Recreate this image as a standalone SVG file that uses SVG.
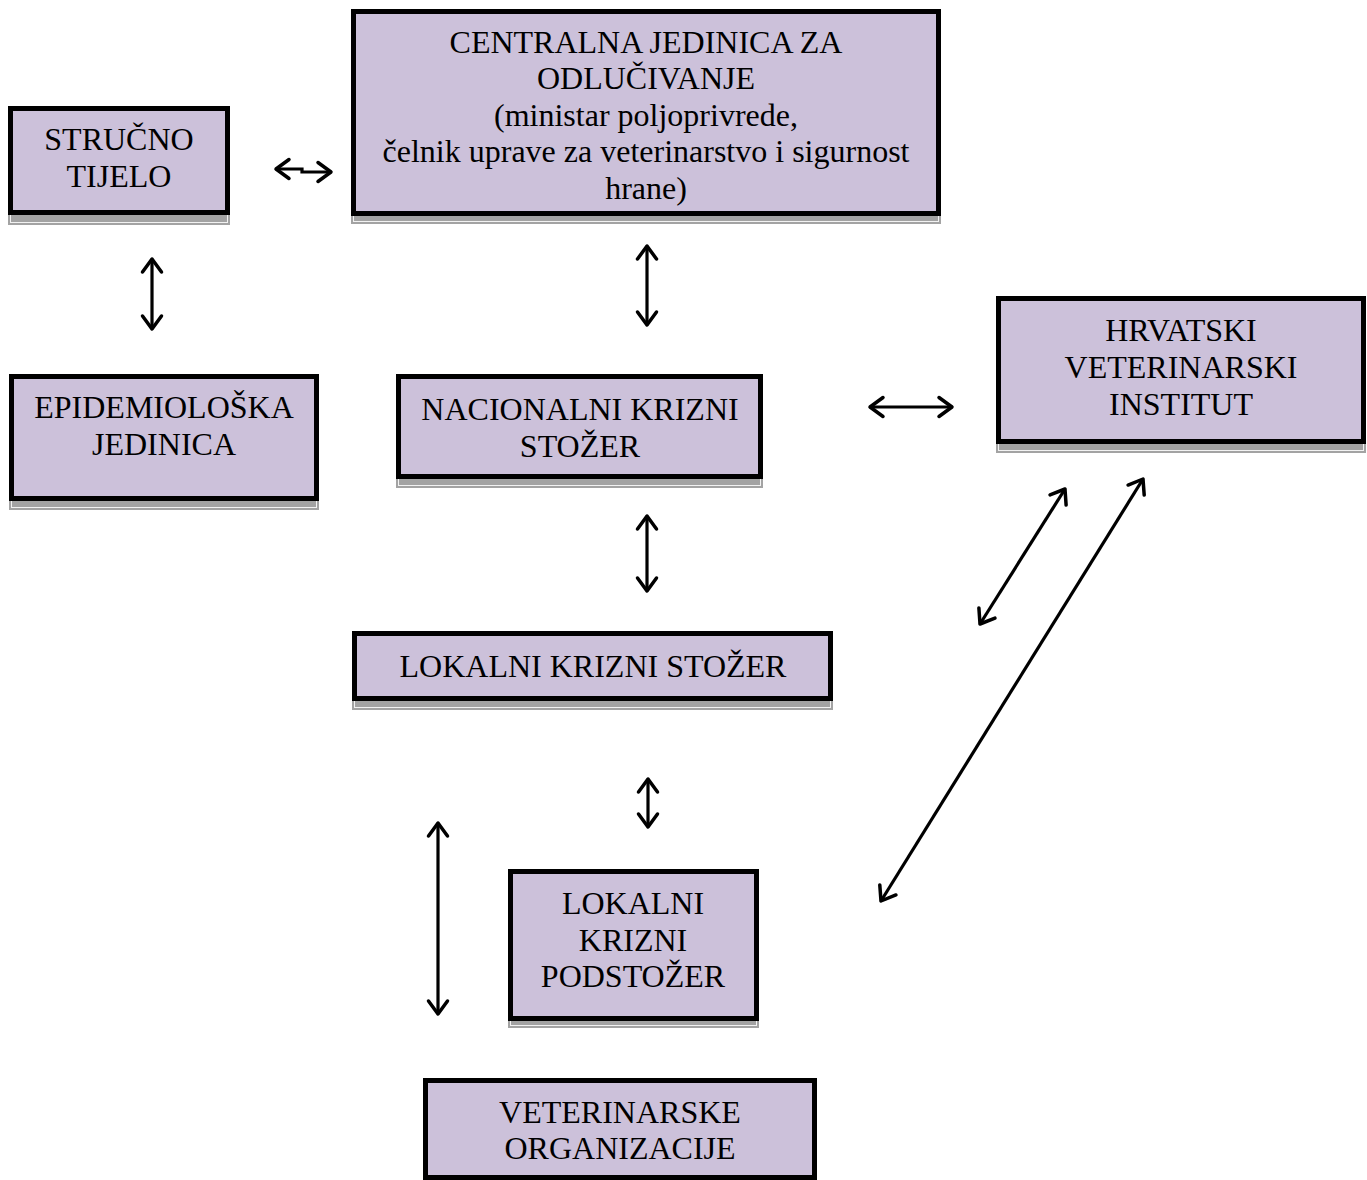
<svg xmlns="http://www.w3.org/2000/svg" width="1367" height="1180" viewBox="0 0 1367 1180">
<style>
.box{fill:#ccc1da;stroke:#000;stroke-width:5}
.sh{fill:#a3a3a3}
.shl{fill:none;stroke:#f2f2f2;stroke-width:1}
.t{font-family:"Liberation Serif","Times New Roman",serif;font-size:32px;fill:#000;text-anchor:middle}
.c{fill:none;stroke:#000;stroke-width:3.2;marker-start:url(#ah);marker-end:url(#ah)}
</style>
<defs>
<marker id="ah" markerUnits="userSpaceOnUse" orient="auto-start-reverse" refX="0" refY="0" markerWidth="30" markerHeight="30" viewBox="-20 -15 30 30" style="overflow:visible">
<path d="M-13,-9.5 L0,0 L-13,9.5" fill="none" stroke="#000" stroke-width="3.5" stroke-linecap="round" stroke-linejoin="round"/>
</marker>
</defs>
<rect width="1367" height="1180" fill="#fff"/>

<g id="strucno">
<rect class="sh" x="8" y="208" width="222" height="17"/>
<rect class="shl" x="10.5" y="210" width="217" height="12.5"/>
<rect class="box" x="10.5" y="108.5" width="217" height="104"/>
<text class="t" x="119" y="150">STRUČNO</text>
<text class="t" x="119" y="187">TIJELO</text>
</g>

<g id="centralna">
<rect class="sh" x="351" y="209" width="590" height="15"/>
<rect class="shl" x="353.5" y="211" width="585" height="10.5"/>
<rect class="box" x="353.5" y="11.5" width="585" height="202"/>
<text class="t" x="646" y="53">CENTRALNA JEDINICA ZA</text>
<text class="t" x="646" y="89">ODLUČIVANJE</text>
<text class="t" x="646" y="126">(ministar poljoprivrede,</text>
<text class="t" x="646" y="162">čelnik uprave za veterinarstvo i sigurnost</text>
<text class="t" x="646" y="199">hrane)</text>
</g>

<g id="epidemioloska">
<rect class="sh" x="9" y="494" width="310" height="16"/>
<rect class="shl" x="11.5" y="496" width="305" height="11.5"/>
<rect class="box" x="11.5" y="376.5" width="305" height="122"/>
<text class="t" x="164" y="418">EPIDEMIOLOŠKA</text>
<text class="t" x="164" y="455">JEDINICA</text>
</g>

<g id="nacionalni">
<rect class="sh" x="396" y="472" width="367" height="16"/>
<rect class="shl" x="398.5" y="474" width="362" height="11.5"/>
<rect class="box" x="398.5" y="376.5" width="362" height="100"/>
<text class="t" x="580" y="420">NACIONALNI KRIZNI</text>
<text class="t" x="580" y="457">STOŽER</text>
</g>

<g id="hrvatski">
<rect class="sh" x="996" y="437" width="370" height="16"/>
<rect class="shl" x="998.5" y="439" width="365" height="11.5"/>
<rect class="box" x="998.5" y="298.5" width="365" height="143"/>
<text class="t" x="1181" y="341">HRVATSKI</text>
<text class="t" x="1181" y="378">VETERINARSKI</text>
<text class="t" x="1181" y="415">INSTITUT</text>
</g>

<g id="lokalni-stozer">
<rect class="sh" x="352" y="694" width="481" height="16"/>
<rect class="shl" x="354.5" y="696" width="476" height="11.5"/>
<rect class="box" x="354.5" y="633.5" width="476" height="65"/>
<text class="t" x="593" y="677">LOKALNI KRIZNI STOŽER</text>
</g>

<g id="lokalni-podstozer">
<rect class="sh" x="508" y="1014" width="251" height="14"/>
<rect class="shl" x="510.5" y="1016" width="246" height="9.5"/>
<rect class="box" x="510.5" y="871.5" width="246" height="147"/>
<text class="t" x="633" y="914">LOKALNI</text>
<text class="t" x="633" y="951">KRIZNI</text>
<text class="t" x="633" y="987">PODSTOŽER</text>
</g>

<g id="veterinarske">
<rect class="box" x="425.5" y="1080.5" width="389" height="97"/>
<text class="t" x="620" y="1123">VETERINARSKE</text>
<text class="t" x="620" y="1159">ORGANIZACIJE</text>
</g>

<g id="connectors">
<path class="c" d="M276,169 H302 V172 H331"/>
<path class="c" d="M152,259 V329"/>
<path class="c" d="M647,246 V325"/>
<path class="c" d="M870,407 H952"/>
<path class="c" d="M647,516 V591"/>
<path class="c" d="M980,624 L1065,489"/>
<path class="c" d="M881,901 L1143,479"/>
<path class="c" d="M648,779 V827"/>
<path class="c" d="M438,823 V1014"/>
</g>
</svg>
